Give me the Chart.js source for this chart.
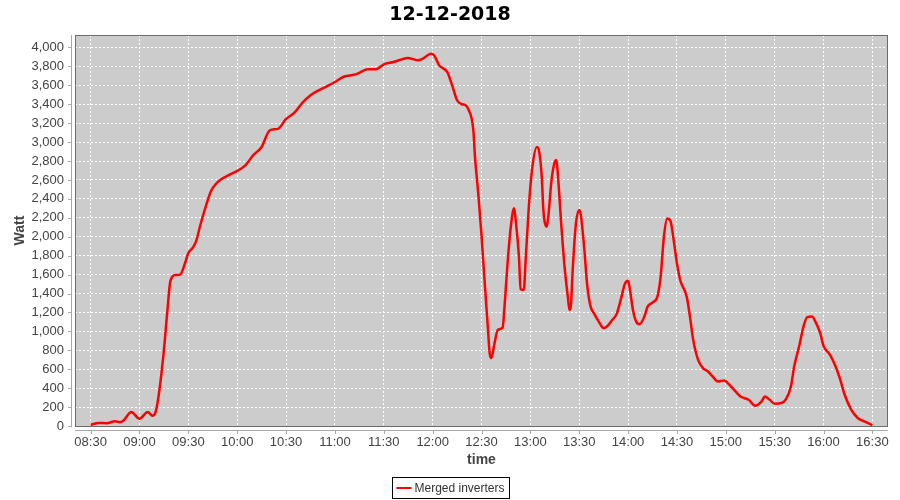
<!DOCTYPE html>
<html>
<head>
<meta charset="utf-8">
<script src="https://cdn.jsdelivr.net/npm/chart.js@4/dist/chart.umd.min.js"></script>
<style>
  html, body { margin: 0; padding: 0; background: #fff; }
  #power { display: block; }
</style>
</head>
<body>
<canvas id="power" width="900" height="500"></canvas>
<script>
// readings of the merged inverters, 12-12-2018
const chartTitle = "12-12-2018";
const times = [
  "08:30", "08:35", "08:40", "08:45", "08:48", "08:50", "08:55", "09:00", "09:05", "09:08",
  "09:10", "09:12", "09:15", "09:17", "09:19", "09:22", "09:25", "09:28", "09:30", "09:33",
  "09:35", "09:37", "09:40", "09:44", "09:47", "09:50", "09:56", "10:00", "10:05", "10:10",
  "10:15", "10:20", "10:25", "10:30", "10:35", "10:40", "10:45", "10:50", "10:55", "11:00",
  "11:05", "11:10", "11:14", "11:20", "11:25", "11:30", "11:36", "11:41", "11:45", "11:47",
  "11:51", "11:54", "11:59", "12:01", "12:04", "12:09", "12:12", "12:15", "12:18", "12:20",
  "12:22", "12:25", "12:26", "12:28", "12:30", "12:32", "12:34", "12:35", "12:36", "12:38",
  "12:40", "12:43", "12:44", "12:46", "12:48", "12:50", "12:51", "12:53", "12:54", "12:56",
  "12:57", "12:59", "13:01", "13:04", "13:05", "13:07", "13:08", "13:10", "13:11", "13:13",
  "13:15", "13:16", "13:17", "13:19", "13:21", "13:23", "13:24", "13:25", "13:26", "13:28",
  "13:30", "13:31", "13:33", "13:35", "13:37", "13:39", "13:42", "13:45", "13:47", "13:50",
  "13:53", "13:56", "13:58", "14:00", "14:01", "14:03", "14:05", "14:07", "14:10", "14:12",
  "14:15", "14:18", "14:20", "14:22", "14:24", "14:26", "14:28", "14:30", "14:32", "14:36",
  "14:38", "14:40", "14:43", "14:46", "14:49", "14:52", "14:55", "14:59", "15:02", "15:06",
  "15:09", "15:14", "15:18", "15:22", "15:24", "15:27", "15:30", "15:34", "15:37", "15:40",
  "15:42", "15:45", "15:48", "15:50", "15:53", "15:55", "15:58", "16:00", "16:04", "16:07",
  "16:10", "16:13", "16:17", "16:21", "16:25", "16:30"
];
const watts = [
  13, 32, 30, 49, 40, 55, 148, 77, 148, 108,
  155, 350, 805, 1192, 1533, 1596, 1600, 1722, 1828, 1890,
  1965, 2100, 2281, 2485, 2560, 2605, 2661, 2696, 2755, 2865,
  2949, 3125, 3140, 3245, 3308, 3414, 3495, 3547, 3590, 3635,
  3688, 3706, 3724, 3769, 3769, 3822, 3846, 3874, 3888, 3882,
  3864, 3882, 3935, 3915, 3811, 3740, 3600, 3442, 3400, 3392,
  3345, 3125, 2844, 2458, 2018, 1508, 1016, 770, 717, 875,
  1016, 1040, 1227, 1720, 2106, 2300, 2176, 1789, 1445, 1438,
  1720, 2300, 2704, 2949, 2930, 2633, 2282, 2106, 2211, 2598,
  2791, 2810, 2633, 2123, 1684, 1367, 1227, 1297, 1649, 2141,
  2282, 2229, 1895, 1473, 1262, 1192, 1103, 1034, 1051, 1114,
  1185, 1367, 1501, 1536, 1456, 1227, 1103, 1076, 1156, 1262,
  1304, 1367, 1578, 2000, 2194, 2169, 1965, 1720, 1543, 1367,
  1156, 910, 699, 612, 576, 523, 470, 481, 440, 365,
  312, 277, 214, 260, 312, 277, 235, 243, 285, 418,
  629, 840, 1069, 1150, 1156, 1103, 981, 847, 752, 647,
  506, 330, 172, 84, 49, 10
];
const xTickLabels = ["08:30", "09:00", "09:30", "10:00", "10:30", "11:00", "11:30", "12:00",
  "12:30", "13:00", "13:30", "14:00", "14:30", "15:00", "15:30", "16:00", "16:30"];
const yTickValues = [0, 200, 400, 600, 800, 1000, 1200, 1400, 1600, 1800, 2000,
  2200, 2400, 2600, 2800, 3000, 3200, 3400, 3600, 3800, 4000];

const toMin = (s) => {
  const [h, m] = s.split(":").map(Number);
  return h * 60 + m;
};
const fmtTime = (v) => {
  const h = Math.floor(v / 60), m = Math.round(v % 60);
  return String(h).padStart(2, "0") + ":" + String(m).padStart(2, "0");
};

const points = times.map((t, i) => ({ x: toMin(t), y: watts[i] }));
const xTicks = xTickLabels.map(toMin);

const plotDecor = {
  id: "plotDecor",
  beforeDraw(chart) {
    const { ctx, chartArea: a } = chart;
    ctx.save();
    ctx.fillStyle = "#cccccc";
    ctx.fillRect(a.left, a.top, a.right - a.left, a.bottom - a.top);
    ctx.restore();
  },
  afterDraw(chart) {
    const { ctx, chartArea: a, scales } = chart;
    ctx.save();
    // title, centred on the whole canvas
    ctx.fillStyle = "#000";
    ctx.font = "bold 19px 'DejaVu Sans', sans-serif";
    ctx.textAlign = "center";
    ctx.textBaseline = "middle";
    ctx.fillText(chartTitle, 450, 15);
    ctx.textAlign = "left";

    // plot outline
    ctx.strokeStyle = "#6b6b6b";
    ctx.lineWidth = 1;
    ctx.strokeRect(a.left + 0.5, a.top + 0.5, a.right - a.left - 1, a.bottom - a.top);
    // offset axis lines + tick marks
    ctx.strokeStyle = "#a8a8a8";
    ctx.beginPath();
    ctx.moveTo(a.left - 3.5, a.top);
    ctx.lineTo(a.left - 3.5, a.bottom + 1);
    ctx.moveTo(a.left, a.bottom + 4.5);
    ctx.lineTo(a.right, a.bottom + 4.5);
    for (const v of yTickValues) {
      const y = Math.round(scales.y.getPixelForValue(v)) + 0.5;
      ctx.moveTo(a.left - 7, y);
      ctx.lineTo(a.left - 3.5, y);
    }
    for (const v of xTicks) {
      const x = Math.round(scales.x.getPixelForValue(v)) + 0.5;
      ctx.moveTo(x, a.bottom + 4.5);
      ctx.lineTo(x, a.bottom + 8);
    }
    ctx.stroke();

    // legend box
    const label = chart.data.datasets[0].label;
    ctx.font = "12px 'Liberation Sans', Arial, sans-serif";
    const tw = ctx.measureText(label).width;
    const w = Math.round(4 + 15 + 3 + tw + 5);
    const bx = Math.round(450 - w / 2) + 0.5, by = 477.5, bh = 21;
    ctx.strokeStyle = "#000";
    ctx.strokeRect(bx, by, w, bh);
    ctx.strokeStyle = "#ff0000";
    ctx.lineWidth = 2;
    ctx.beginPath();
    ctx.moveTo(bx + 4, by + bh / 2);
    ctx.lineTo(bx + 19, by + bh / 2);
    ctx.stroke();
    ctx.fillStyle = "#333";
    ctx.textBaseline = "middle";
    ctx.fillText(label, bx + 22, by + bh / 2 + 0.5);
    ctx.restore();
  },
};

new Chart(document.getElementById("power"), {
  type: "line",
  data: {
    datasets: [
      {
        label: "Merged inverters",
        data: points,
        borderColor: "#ff0000",
        borderWidth: 2.5,
        pointRadius: 0,
        cubicInterpolationMode: "monotone",
        fill: false,
      },
    ],
  },
  options: {
    responsive: false,
    animation: false,
    devicePixelRatio: 1,
    layout: { padding: { left: 0, right: 12, top: 35, bottom: 26 } },
    plugins: {
      legend: { display: false },
      tooltip: { enabled: false },
      title: { display: false },
    },
    scales: {
      x: {
        type: "linear",
        min: 510 - 9.6,
        max: 990 + 9.6,
        afterFit: (s) => { s.height = 48; },
        afterBuildTicks: (s) => { s.ticks = xTicks.map((v) => ({ value: v })); },
        grid: { color: "#ffffff", lineWidth: 1, drawTicks: false },
        border: { display: false, dash: [2, 2] },
        ticks: {
          color: "#444",
          padding: 9,
          maxRotation: 0,
          autoSkip: false,
          font: { family: "'Liberation Sans', Arial, sans-serif", size: 13 },
          callback: (v) => fmtTime(v),
        },
        title: {
          display: true,
          text: "time",
          color: "#444",
          font: { family: "'Liberation Sans', Arial, sans-serif", size: 14, weight: "bold" },
          padding: { top: 0, bottom: 5.6 },
        },
      },
      y: {
        type: "linear",
        min: 0,
        max: 4132,
        afterFit: (s) => { s.width = 75; },
        afterBuildTicks: (s) => { s.ticks = yTickValues.map((v) => ({ value: v })); },
        grid: { color: "#ffffff", lineWidth: 1, drawTicks: false },
        border: { display: false, dash: [2, 2] },
        ticks: {
          color: "#444",
          padding: 11,
          autoSkip: false,
          font: { family: "'Liberation Sans', Arial, sans-serif", size: 13 },
          callback: (v) => v.toLocaleString("en-US"),
        },
        title: {
          display: true,
          text: "Watt",
          color: "#444",
          font: { family: "'Liberation Sans', Arial, sans-serif", size: 14, weight: "bold" },
          padding: { top: 11.6, bottom: 0 },
        },
      },
    },
  },
  plugins: [plotDecor],
});
</script>
</body>
</html>
